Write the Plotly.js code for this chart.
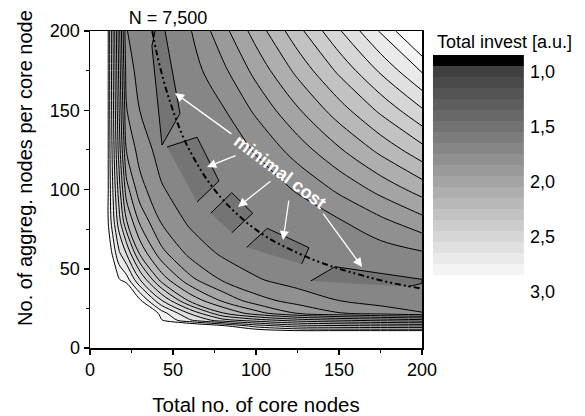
<!DOCTYPE html>
<html><head><meta charset="utf-8">
<script src="https://cdn.plot.ly/plotly-3.0.1.min.js"></script>
<style>html,body{margin:0;padding:0;background:#fff}</style>
</head><body><div id="chart" style="width:585px;height:416px"></div>
<script>
// grid of the cost surface (x = total no. of core nodes, y = aggreg. nodes per core node)
const coreNodes = [-5, 8, 11, 14, 17.5, 22, 30, 43, 60, 80, 100, 125, 150, 175, 200];
const aggNodes  = [-5, 8, 11, 14, 17.5, 22, 30, 43, 60, 80, 100, 125, 150, 175, 200];
// total invest [a.u.], one row per aggNodes value
const totalInvest = [
  [5, 5, 5, 5, 5, 5, 5, 5, 5, 5, 5, 5, 5, 5, 5],
  [5, 5, 5, 5, 5, 5, 5, 5, 5, 5, 5, 5, 5, 5, 5],
  [5, 5, 5.0, 4.9, 4.7, 4.4, 4.0, 3.8, 3.5, 3.2, 2.96, 2.89, 2.88, 2.88, 2.88],
  [5, 5, 4.9, 4.6, 4.3, 4.0, 3.6, 3.2, 3.05, 2.92, 2.75, 2.64, 2.615, 2.60, 2.59],
  [5, 5, 4.7, 4.3, 4.0, 3.7, 3.3, 2.91, 2.715, 2.54, 2.446, 2.356, 2.305, 2.27, 2.24],
  [5, 5, 4.4, 4.0, 3.7, 3.42, 3.17, 2.85, 2.59, 2.305, 2.14, 1.99, 1.905, 1.85, 1.805],
  [5, 5, 4.0, 3.6, 3.3, 3.17, 2.92, 2.606, 2.28, 2.08, 1.94, 1.857, 1.799, 1.763, 1.74],
  [5, 5, 3.4, 3.05, 2.91, 2.85, 2.606, 2.262, 2.032, 1.889, 1.81, 1.759, 1.734, 1.72, 1.724],
  [5, 5, 3.0, 2.86, 2.715, 2.59, 2.28, 2.032, 1.87, 1.781, 1.74, 1.72, 1.728, 1.751, 1.79],
  [5, 5, 2.89, 2.73, 2.54, 2.305, 2.08, 1.889, 1.781, 1.734, 1.721, 1.742, 1.79, 1.876, 1.965],
  [5, 5, 2.886, 2.683, 2.446, 2.14, 1.94, 1.81, 1.74, 1.721, 1.742, 1.809, 1.92, 2.032, 2.143],
  [5, 5, 2.884, 2.64, 2.356, 1.99, 1.857, 1.759, 1.72, 1.742, 1.809, 1.948, 2.087, 2.227, 2.366],
  [5, 5, 2.88, 2.615, 2.305, 1.905, 1.799, 1.734, 1.728, 1.79, 1.92, 2.087, 2.254, 2.421, 2.588],
  [5, 5, 2.88, 2.60, 2.27, 1.85, 1.763, 1.72, 1.751, 1.876, 2.032, 2.227, 2.421, 2.616, 2.811],
  [5, 5, 2.88, 2.59, 2.24, 1.805, 1.74, 1.724, 1.79, 1.965, 2.143, 2.366, 2.588, 2.811, 3.054]
];
// minimal-cost path (N = 7,500)
const valleyX = [37.5, 40, 44, 48, 52, 57, 63, 70, 78, 87, 97, 108, 120, 135, 150, 165, 182, 200];
const valleyY = [200, 187, 170, 156, 144, 131, 119, 107, 96, 86, 77, 69, 62.5, 55.5, 50, 45.5, 41, 37.5];
// minimal-cost regions
const regionAX = [39.2, 37.3, 43.4, 54.2, 45.2];
const regionAY = [200, 190.5, 128, 148, 200];
const regionBX = [46.4, 64.5, 77.7, 64.5];
const regionBY = [126.8, 133, 105.4, 92.1];
const regionCX = [72.7, 85.4, 98, 85.4];
const regionCY = [85, 98, 85, 72.7];
const regionDX = [94.4, 106.8, 131.9, 127.5];
const regionDY = [63.5, 75.5, 63.3, 53];
const regionEX = [133, 147.6, 200, 200, 191.7];
const regionEY = [42.3, 51.3, 43.3, 40.8, 38.7];
// colour scale levels
const bandCentres = [0.95, 1.05, 1.15, 1.25, 1.35, 1.45, 1.55, 1.65, 1.75, 1.85, 1.95, 2.05, 2.15, 2.25, 2.35, 2.45, 2.55, 2.65, 2.75, 2.85];
const bandGrays = [0, 64, 74, 84, 94, 104, 114, 124, 134, 144, 154, 164, 174, 184, 194, 204, 214, 224, 234, 244, 255];
const barTicks = [1.0, 1.5, 2.0, 2.5, 3.0];
const barTickText = ['1,0', '1,5', '2,0', '2,5', '3,0'];

const FONT = 'Arial, "Liberation Sans", sans-serif';
const gray = g => 'rgb(' + g + ',' + g + ',' + g + ')';
const n = bandGrays.length - 1;
const barScale = bandGrays.map((g, k) => [k / n, gray(g)]);
const contourScale = bandGrays.map((g, k) => [k / n, k === 0 ? '#ffffff' : gray(g)]);
const regionFill = 'rgb(116,116,116)';

const traces = [{
  type: 'contour', x: coreNodes, y: aggNodes, z: totalInvest,
  autocontour: false,
  contours: {start: 1.0, end: 2.9, size: 0.1, coloring: 'fill', showlines: true},
  colorscale: contourScale, showscale: false,
  line: {color: '#000', width: 1, smoothing: 0.9},
  hoverinfo: 'skip'
}];
[[regionAX, regionAY], [regionBX, regionBY], [regionCX, regionCY], [regionDX, regionDY], [regionEX, regionEY]].forEach(r => {
  traces.push({type: 'scatter', mode: 'lines', x: r[0], y: r[1], fill: 'toself', fillcolor: regionFill,
    line: {color: '#000', width: 1}, hoverinfo: 'skip'});
});
traces.push({type: 'scatter', mode: 'lines', x: valleyX, y: valleyY,
  line: {color: '#000', width: 2, dash: '6px,3px,2px,3px,2px,3px', shape: 'spline'}, hoverinfo: 'skip'});
traces.push({type: 'heatmap', x: [0], y: bandCentres, z: bandCentres.map(v => [v]),
  xaxis: 'x2', yaxis: 'y2', colorscale: barScale, zmin: bandCentres[0], zmax: 2.95,
  showscale: false, hoverinfo: 'skip'});

const arrows = [
  {x: 51.2, y: 160.9, ax: 86.1, ay: 134.4},
  {x: 70.5, y: 114.2, ax: 88.6, ay: 121.8},
  {x: 89.2, y: 89.0, ax: 109.6, ay: 106.0},
  {x: 116.3, y: 68.1, ax: 119.9, ay: 94.0},
  {x: 163.9, y: 51.1, ax: 139.8, ay: 85.8}
];
const annotations = arrows.map(a => ({
  x: a.x, y: a.y, ax: a.ax, ay: a.ay, xref: 'x', yref: 'y', axref: 'x', ayref: 'y',
  text: '', showarrow: true, arrowhead: 2, arrowsize: 1.4, arrowwidth: 1.3, arrowcolor: '#fff', standoff: 0
}));
annotations.push({x: 114.5, y: 111, xref: 'x', yref: 'y', text: '<b>minimal cost</b>', showarrow: false,
  textangle: 37, font: {family: FONT, size: 18, color: '#fff'}});
annotations.push({x: 0.7949, y: 0.9653, xref: 'paper', yref: 'paper', xanchor: 'left', yanchor: 'middle',
  text: 'Total invest [a.u.]', showarrow: false, font: {family: FONT, size: 18, color: '#000'}});
annotations.push({x: -0.1498, y: 0.568, xref: 'paper', yref: 'paper', xanchor: 'center', yanchor: 'middle',
  text: 'No. of aggreg. nodes per core node', textangle: -90, showarrow: false,
  font: {family: FONT, size: 20, color: '#000'}});

const axisCommon = {
  range: [0, 200], dtick: 50, tick0: 0, ticks: 'outside', ticklen: 5, tickwidth: 1.5, tickcolor: '#000',
  showline: true, linecolor: '#000', linewidth: 1.5, mirror: true, showgrid: false, zeroline: false,
  minor: {ticks: 'outside', ticklen: 3, tickwidth: 1, dtick: 25, tick0: 0, tickcolor: '#000', showgrid: false},
  tickfont: {family: FONT, size: 18, color: '#000'}, fixedrange: true
};
const layout = {
  width: 585, height: 416, margin: {l: 90, r: 61, t: 31, b: 68},
  paper_bgcolor: '#fff', plot_bgcolor: '#fff', showlegend: false,
  font: {family: FONT, size: 18, color: '#000'},
  title: {text: 'N = 7,500', x: 168 / 585, xanchor: 'center', y: 1 - 18 / 416, yanchor: 'middle',
    font: {family: FONT, size: 18, color: '#000'}},
  xaxis: Object.assign({}, axisCommon, {domain: [0, 0.765], anchor: 'y',
    title: {text: 'Total no. of core nodes', font: {family: FONT, size: 20.5, color: '#000'}, standoff: 18}}),
  yaxis: Object.assign({}, axisCommon, {domain: [0, 1], anchor: 'x'}),
  xaxis2: {domain: [0.790, 1.0], anchor: 'y2', range: [-0.5, 0.5], visible: false, fixedrange: true},
  yaxis2: {domain: [0.1956, 0.9243], anchor: 'x2', side: 'right', range: [3.0, 0.9],
    tickvals: barTicks, ticktext: barTickText, ticks: '', showline: false, showgrid: false, zeroline: false,
    ticklabelstandoff: 5, ticklabelshift: -6, tickfont: {family: FONT, size: 18, color: '#000'}, fixedrange: true},
  annotations: annotations
};
Plotly.newPlot('chart', traces, layout, {staticPlot: true, displayModeBar: false});
</script></body></html>
